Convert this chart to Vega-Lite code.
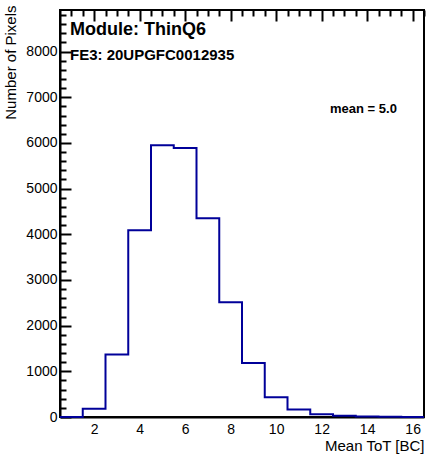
{
  "$schema": "https://vega.github.io/schema/vega-lite/v6.json",
  "width": 364,
  "height": 407,
  "autosize": {"type": "none"},
  "padding": {"left": 60, "top": 10, "right": 7, "bottom": 41},
  "background": "white",
  "config": {
    "view": {"stroke": "black", "strokeWidth": 2},
    "axis": {"grid": false}
  },
  "data": {"values": [
    {"tot": 0.5, "pixels": 0},
    {"tot": 1.5, "pixels": 180},
    {"tot": 2.5, "pixels": 1370},
    {"tot": 3.5, "pixels": 4090},
    {"tot": 4.5, "pixels": 5950},
    {"tot": 5.5, "pixels": 5890},
    {"tot": 6.5, "pixels": 4350},
    {"tot": 7.5, "pixels": 2510},
    {"tot": 8.5, "pixels": 1180},
    {"tot": 9.5, "pixels": 430},
    {"tot": 10.5, "pixels": 165},
    {"tot": 11.5, "pixels": 60},
    {"tot": 12.5, "pixels": 25},
    {"tot": 13.5, "pixels": 10},
    {"tot": 14.5, "pixels": 3},
    {"tot": 15.5, "pixels": 0},
    {"tot": 16.5, "pixels": 0}
  ]},
  "resolve": {"axis": {"x": "independent", "y": "independent"}},
  "layer": [
    {
      "mark": {"type": "line", "opacity": 0},
      "encoding": {
        "x": {"field": "tot", "type": "quantitative", "scale": {"domain": [0.5, 16.5], "nice": false, "zero": false},
              "axis": {"orient": "bottom", "values": [1, 1.5, 2.5, 3, 3.5, 4.5, 5, 5.5, 6.5, 7, 7.5, 8.5, 9, 9.5, 10.5, 11, 11.5, 12.5, 13, 13.5, 14.5, 15, 15.5, 16.5], "labels": false, "domain": false, "ticks": false, "grid": true, "gridColor": "#000000", "gridOpacity": 1, "gridWidth": 2, "gridDash": [6, 3000], "title": null}},
        "y": {"field": "pixels", "type": "quantitative", "scale": {"domain": [0, 8910], "nice": false},
              "axis": {"orient": "left", "values": [200, 400, 600, 800, 1200, 1400, 1600, 1800, 2200, 2400, 2600, 2800, 3200, 3400, 3600, 3800, 4200, 4400, 4600, 4800, 5200, 5400, 5600, 5800, 6200, 6400, 6600, 6800, 7200, 7400, 7600, 7800, 8200, 8400, 8600, 8800], "labels": false, "domain": false, "ticks": false, "grid": true, "gridColor": "#000000", "gridOpacity": 1, "gridWidth": 2, "gridDash": [6, 3000], "title": null}}
      }
    },
    {
      "mark": {"type": "line", "interpolate": "step-after", "color": "#000099", "strokeWidth": 2},
      "encoding": {
        "x": {"field": "tot", "type": "quantitative",
              "axis": {"orient": "bottom", "values": [2, 4, 6, 8, 10, 12, 14, 16], "ticks": false, "grid": true, "gridColor": "#000000", "gridOpacity": 1, "gridWidth": 2, "gridDash": [11, 3000], "domainColor": "#000000", "domainWidth": 2, "labelColor": "#000000", "labelFont": "Liberation Sans", "labelFontSize": 14, "labelPadding": 5, "title": "Mean ToT [BC]", "titleColor": "#000000", "titleFont": "Liberation Sans", "titleFontWeight": "normal", "titleFontSize": 15, "titleAnchor": "end", "titlePadding": 2}},
        "y": {"field": "pixels", "type": "quantitative",
              "axis": {"orient": "left", "format": "d", "values": [0, 1000, 2000, 3000, 4000, 5000, 6000, 7000, 8000], "ticks": false, "grid": true, "gridColor": "#000000", "gridOpacity": 1, "gridWidth": 2, "gridDash": [11, 3000], "domainColor": "#000000", "domainWidth": 2, "labelColor": "#000000", "labelFont": "Liberation Sans", "labelFontSize": 14, "labelPadding": 3, "title": "Number of Pixels", "titleColor": "#000000", "titleFont": "Liberation Sans", "titleFontWeight": "normal", "titleFontSize": 15, "titleAnchor": "end", "titleY": -5, "titlePadding": 7}}
      }
    },
    {
      "data": {"values": [{}]},
      "mark": {"type": "text", "text": "Module: ThinQ6", "font": "Liberation Sans", "fontSize": 18, "fontWeight": "bold", "align": "left", "baseline": "alphabetic", "color": "black"},
      "encoding": {"x": {"datum": 0.94, "type": "quantitative", "axis": null}, "y": {"datum": 8362, "type": "quantitative", "axis": null}}
    },
    {
      "data": {"values": [{}]},
      "mark": {"type": "text", "text": "FE3: 20UPGFC0012935", "font": "Liberation Sans", "fontSize": 15, "fontWeight": "bold", "align": "left", "baseline": "alphabetic", "color": "black"},
      "encoding": {"x": {"datum": 0.94, "type": "quantitative", "axis": null}, "y": {"datum": 7815, "type": "quantitative", "axis": null}}
    },
    {
      "data": {"values": [{}]},
      "mark": {"type": "text", "text": "mean = 5.0", "font": "Liberation Sans", "fontSize": 13, "fontWeight": "bold", "align": "left", "baseline": "alphabetic", "color": "black"},
      "encoding": {"x": {"datum": 12.37, "type": "quantitative", "axis": null}, "y": {"datum": 6655, "type": "quantitative", "axis": null}}
    }
  ]
}
